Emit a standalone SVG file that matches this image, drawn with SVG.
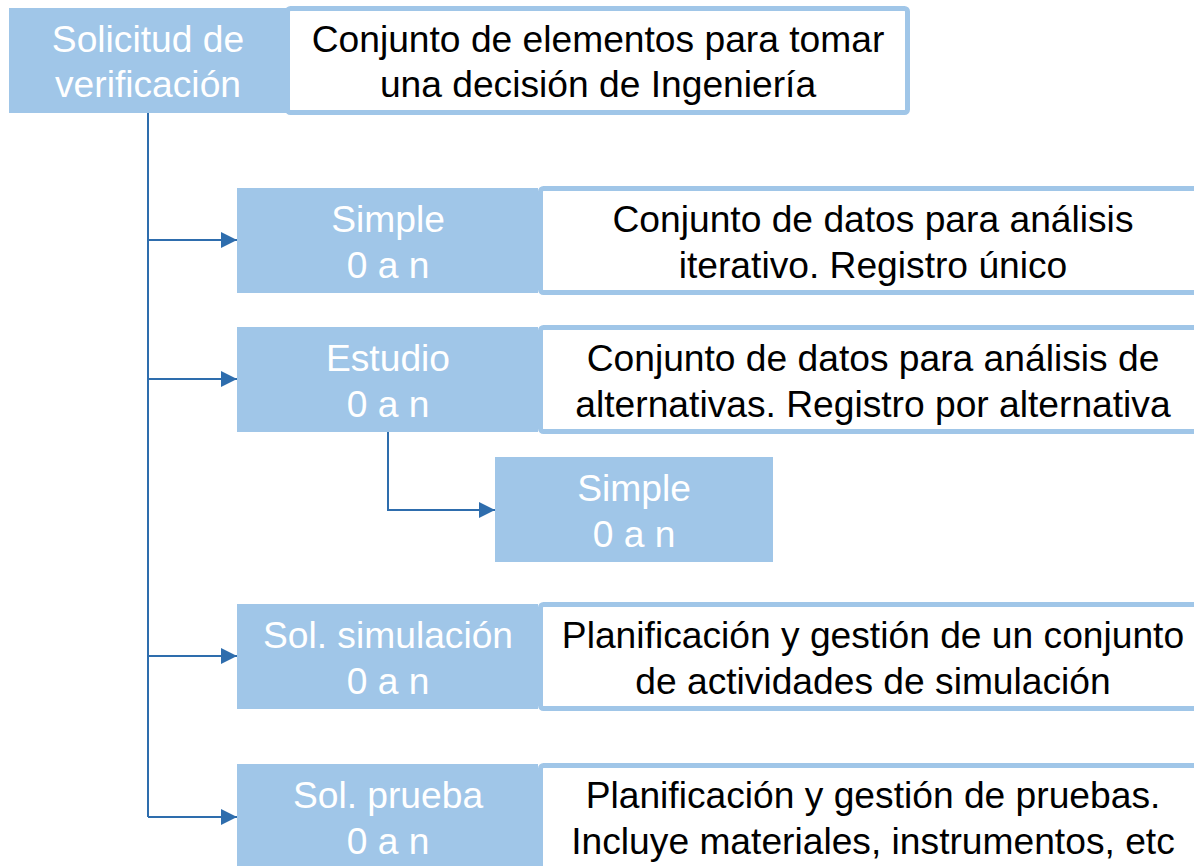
<svg xmlns="http://www.w3.org/2000/svg" width="1194" height="866" viewBox="0 0 1194 866">
<style>
.b{fill:#A0C6E8}
.w{fill:#fff;stroke:#A0C6E8;stroke-width:5}
.tw{font-family:"Liberation Sans",Arial,sans-serif;font-size:37.2px;fill:#fff;text-anchor:middle}
.tk{font-family:"Liberation Sans",Arial,sans-serif;font-size:37.2px;fill:#000;text-anchor:middle}
.c{fill:none;stroke:#2E6DAD;stroke-width:2}
</style>
<defs>
<marker id="a" markerWidth="16" markerHeight="16" refX="16" refY="8" orient="auto" markerUnits="userSpaceOnUse">
<path d="M0,0 L16,8 L0,16 Z" fill="#2E6DAD"/>
</marker>
</defs>
<rect x="0" y="0" width="1194" height="866" fill="#fff"/>
<g id="connectors">
<path class="c" d="M148,113 V817"/>
<path class="c" d="M148,240 H237" marker-end="url(#a)"/>
<path class="c" d="M148,379 H237" marker-end="url(#a)"/>
<path class="c" d="M148,656 H237" marker-end="url(#a)"/>
<path class="c" d="M148,817 H237" marker-end="url(#a)"/>
<path class="c" d="M388,432 V510 H495" marker-end="url(#a)"/>
</g>
<g id="root">
<rect class="b" x="9" y="8" width="280" height="105"/>
<text class="tw" x="148" y="52">Solicitud de</text>
<text class="tw" x="148" y="97">verificación</text>
</g>
<g id="root-desc">
<rect class="w" x="287.5" y="8.5" width="620" height="104" rx="3"/>
<text class="tk" x="598" y="52">Conjunto de elementos para tomar</text>
<text class="tk" x="598" y="97">una decisión de Ingeniería</text>
</g>
<g id="simple">
<rect class="b" x="237" y="188" width="301" height="105"/>
<text class="tw" x="388" y="232">Simple</text>
<text class="tw" x="388" y="278">0 a n</text>
</g>
<g id="simple-desc">
<rect class="w" x="540.5" y="188.5" width="670" height="104" rx="3"/>
<text class="tk" x="873" y="232">Conjunto de datos para análisis</text>
<text class="tk" x="873" y="278">iterativo. Registro único</text>
</g>
<g id="estudio">
<rect class="b" x="237" y="327" width="301" height="105"/>
<text class="tw" x="388" y="371">Estudio</text>
<text class="tw" x="388" y="417">0 a n</text>
</g>
<g id="estudio-desc">
<rect class="w" x="540.5" y="327.5" width="670" height="104" rx="3"/>
<text class="tk" x="873" y="371">Conjunto de datos para análisis de</text>
<text class="tk" x="873" y="417">alternativas. Registro por alternativa</text>
</g>
<g id="estudio-simple">
<rect class="b" x="495" y="457" width="278" height="105"/>
<text class="tw" x="634" y="501">Simple</text>
<text class="tw" x="634" y="547">0 a n</text>
</g>
<g id="simulacion">
<rect class="b" x="237" y="604" width="301" height="105"/>
<text class="tw" x="388" y="648">Sol. simulación</text>
<text class="tw" x="388" y="694">0 a n</text>
</g>
<g id="simulacion-desc">
<rect class="w" x="540.5" y="604.5" width="670" height="104" rx="3"/>
<text class="tk" x="873" y="648">Planificación y gestión de un conjunto</text>
<text class="tk" x="873" y="694">de actividades de simulación</text>
</g>
<g id="prueba">
<rect class="b" x="237" y="764" width="301" height="110"/>
<text class="tw" x="388" y="808">Sol. prueba</text>
<text class="tw" x="388" y="854">0 a n</text>
</g>
<g id="prueba-desc">
<rect class="w" x="540.5" y="765.5" width="670" height="110" rx="3"/>
<text class="tk" x="873" y="808">Planificación y gestión de pruebas.</text>
<text class="tk" x="873" y="854">Incluye materiales, instrumentos, etc</text>
</g>
</svg>
